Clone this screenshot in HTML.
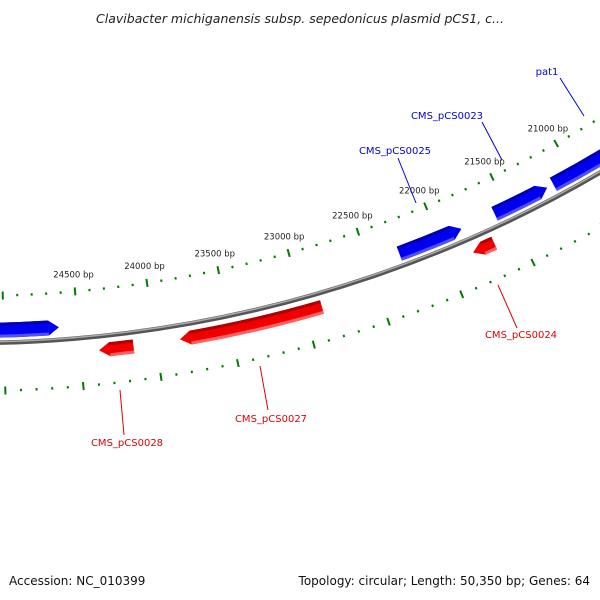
<!DOCTYPE html>
<html><head><meta charset="utf-8"><style>
body{margin:0;background:#fff}
svg{display:block;font-family:"DejaVu Sans","Liberation Sans",sans-serif}
</style></head><body>
<svg id="map" width="600" height="600" viewBox="0 0 600 600">
<text x="300" y="23" text-anchor="middle" font-size="12.5" font-style="italic" fill="#222">Clavibacter michiganensis subsp. sepedonicus plasmid pCS1, c...</text>
<g id="ticks"></g>
<g id="genes"></g>
<g id="labels"></g>
<text x="9" y="585" font-size="12" fill="#111">Accession: NC_010399</text>
<text x="590" y="585" text-anchor="end" font-size="12" fill="#111">Topology: circular; Length: 50,350 bp; Genes: 64</text>
</svg>
<script>
const tickLabels = [21000, 21500, 22000, 22500, 23000, 23500, 24000, 24500];
const geneNames = ["CMS_pCS0026", "CMS_pCS0025", "CMS_pCS0023", "pat1", "CMS_pCS0024", "CMS_pCS0027", "CMS_pCS0028"];
const geneStart = [25600, 22284, 21591, 21150, 21675, 22883, 24149];
const geneEnd = [24629, 21835, 21197, 19300, 21827, 23840, 24377];
const geneStrand = [1, 1, 1, 1, -1, -1, -1];

const NS = "http://www.w3.org/2000/svg";
const CX = -30, CY = -907;
function ang(bp){ return (8.46 + (24000 - bp) * 0.0069) * Math.PI / 180; }
function pt(bp, r){ const a = ang(bp); return [CX + r * Math.sin(a), CY + r * Math.cos(a)]; }
function mk(tag, attrs, parent){ const e = document.createElementNS(NS, tag); for (const k in attrs) e.setAttribute(k, attrs[k]); parent.appendChild(e); return e; }

const ticks = document.getElementById('ticks');
for (let bp = 19000; bp <= 26000; bp += 100) {
  const major = bp % 500 === 0;
  [1203, 1298].forEach(r => {
    const h = major ? 4 : 1.2;
    const a = pt(bp, r - h), b = pt(bp, r + h);
    const l = mk('line', {x1: a[0], y1: a[1], x2: b[0], y2: b[1], stroke: '#007a00', 'stroke-width': 2}, ticks);
    
    
  });
}
tickLabels.forEach(bp => {
  const p = pt(bp, 1186);
  const t = mk('text', {x: p[0], y: p[1] + 3, 'text-anchor': 'middle', 'font-size': 8.5, fill: '#222'}, ticks);
  t.textContent = bp + ' bp';
  
  
});

// backbone
const bb = document.getElementById('genes');
function arcPath(b1, b2, r){ const p1 = pt(b1, r), p2 = pt(b2, r); return `M${p1[0]},${p1[1]} A${r},${r} 0 0 0 ${p2[0]},${p2[1]}`; }
let p = mk('path', {d: arcPath(26500, 18500, 1250), fill: 'none', stroke: '#555', 'stroke-width': 4.5}, bb);


mk('path', {d: arcPath(26500, 18500, 1249), fill: 'none', stroke: '#aaa', 'stroke-width': 1.5}, bb);

const genes = document.getElementById('genes');
geneNames.forEach((name, i) => {
  const fwd = geneStrand[i] > 0;
  const r0 = fwd ? 1230 : 1257, r1 = fwd ? 1245 : 1271;
  const hi = Math.max(geneStart[i], geneEnd[i]), lo = Math.min(geneStart[i], geneEnd[i]);
  const head = Math.min(70, (hi - lo) * 0.5);
  // fwd: tip at lo; rev: tip at hi
  let d;
  const rm = (r0 + r1) / 2;
  if (fwd) {
    const a = pt(hi, r0), b = pt(lo + head, r0), tip = pt(lo, rm), c = pt(lo + head, r1), e = pt(hi, r1);
    d = `M${a} A${r0},${r0} 0 0 0 ${b} L${tip} L${c} A${r1},${r1} 0 0 1 ${e} Z`;
  } else {
    const a = pt(hi - head, r0), b = pt(lo, r0), c = pt(lo, r1), e = pt(hi - head, r1), tip = pt(hi, rm);
    d = `M${a} A${r0},${r0} 0 0 0 ${b} L${c} A${r1},${r1} 0 0 1 ${e} L${tip} Z`;
  }
  const g = mk('g', {}, genes);
  
  
  mk('path', {d: d, fill: fwd ? '#0000f0' : '#f00000'}, g);
  const s1 = fwd ? hi : hi - head, s2 = fwd ? lo + head : lo;
  mk('path', {d: arcPath(s1, s2, r0 + 1.5), fill: 'none', stroke: fwd ? '#0000b0' : '#b00000', 'stroke-width': 3}, g);
  mk('path', {d: arcPath(s1, s2, r1 - 1.5), fill: 'none', stroke: fwd ? '#5050ff' : '#ff6060', 'stroke-width': 3}, g);
});

// labels
const lab = document.getElementById('labels');
const labelDefs = [
  ["pat1", 547, 75, 560, 78, 584, 116, '#0000e0'],
  ["CMS_pCS0023", 447, 119, 482, 122, 502, 160, '#0000e0'],
  ["CMS_pCS0025", 395, 154, 398, 158, 416, 203, '#0000e0'],
  ["CMS_pCS0024", 521, 338, 498, 285, 517, 328, '#e00000'],
  ["CMS_pCS0027", 271, 422, 260, 366, 268, 410, '#e00000'],
  ["CMS_pCS0028", 127, 446, 120, 390, 124, 435, '#e00000']
];
labelDefs.forEach(L => {
  const ln = mk('line', {x1: L[3], y1: L[4], x2: L[5], y2: L[6], stroke: L[7], 'stroke-width': 1}, lab);
  
  
  const t = mk('text', {x: L[1], y: L[2], 'text-anchor': 'middle', 'font-size': 10, fill: L[7]}, lab);
  t.textContent = L[0];
  
  
});
</script>
</body></html>
